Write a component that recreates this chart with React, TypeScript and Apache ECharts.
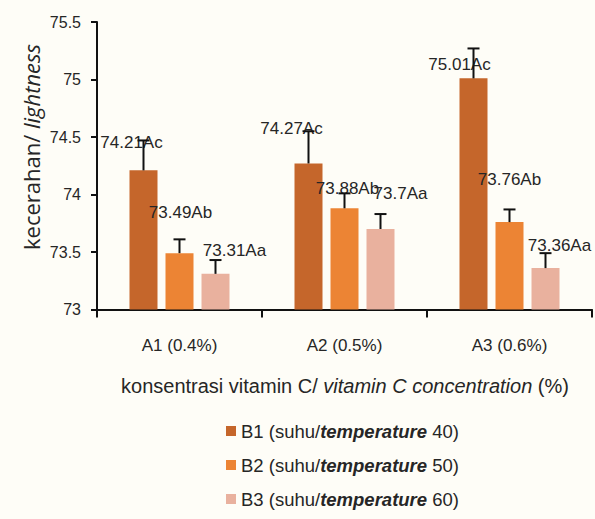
import React, { useEffect, useRef } from "react";
import * as echarts from "echarts";

const categories = ["A1 (0.4%)", "A2 (0.5%)", "A3 (0.6%)"];
const seriesNames = [
  "B1 (suhu/temperature 40)",
  "B2 (suhu/temperature 50)",
  "B3 (suhu/temperature 60)",
];
const valuesB1 = [74.21, 74.27, 75.01];
const valuesB2 = [73.49, 73.88, 73.76];
const valuesB3 = [73.31, 73.7, 73.36];
const errorsB1 = [0.26, 0.28, 0.26];
const errorsB2 = [0.12, 0.13, 0.11];
const errorsB3 = [0.12, 0.13, 0.13];
const lettersB1 = ["Ac", "Ac", "Ac"];
const lettersB2 = ["Ab", "Ab", "Ab"];
const lettersB3 = ["Aa", "Aa", "Aa"];
const yTicks = { min: 73, max: 75.5, interval: 0.5 };

// layout / style constants
const colors = ["#c5662b", "#ec8434", "#e9b19e"];
const labelOffsets = [
  [[-12, -28], [-17, -35], [-14, -14]],
  [[1, -41], [3, -20], [0, -43]],
  [[19, -23], [20, -36], [14, -23]],
];
const BAR_W = 28;
const BAR_STEP = 36;
const FONT = "'Liberation Sans', Arial, sans-serif";
const TEXT = "#262626";

export default function App() {
  const ref = useRef<HTMLDivElement>(null);
  useEffect(() => {
    if (!ref.current) return;
    const chart = echarts.init(ref.current, undefined, { renderer: "svg" });
    const values = [valuesB1, valuesB2, valuesB3];
    const errors = [errorsB1, errorsB2, errorsB3];
    const letters = [lettersB1, lettersB2, lettersB3];

    const barSeries = values.map((vals, si) => ({
      type: "bar",
      name: seriesNames[si],
      barWidth: BAR_W,
      barGap: ((BAR_STEP - BAR_W) / BAR_W) * 100 + "%",
      itemStyle: { color: colors[si] },
      z: 2,
      data: vals.map((v, ci) => ({
        value: v,
        label: {
          show: true,
          position: ["50%", 0],
          align: "center",
          verticalAlign: "middle",
          offset: labelOffsets[si][ci],
          formatter: () => `${v}${letters[si][ci]}`,
          fontFamily: FONT,
          fontSize: 17,
          color: TEXT,
        },
      })),
    }));

    const errSeries = values.map((vals, si) => ({
      type: "custom",
      name: seriesNames[si] + " err",
      z: 10,
      silent: true,
      data: vals.map((v, ci) => [ci, v, errors[si][ci]]),
      renderItem: (params: any, api: any) => {
        const ci = api.value(0);
        const v = api.value(1);
        const e = api.value(2);
        const p0 = api.coord([ci, v]);
        const p1 = api.coord([ci, v + e]);
        const x = p0[0] + (si - 1) * BAR_STEP;
        return {
          type: "group",
          children: [
            {
              type: "line",
              shape: { x1: x, y1: p0[1], x2: x, y2: p1[1] },
              style: { stroke: "#111", lineWidth: 2 },
            },
            {
              type: "line",
              shape: { x1: x - 6, y1: p1[1], x2: x + 6, y2: p1[1] },
              style: { stroke: "#111", lineWidth: 2 },
            },
          ],
        };
      },
    }));

    chart.setOption({
      animation: false,
      backgroundColor: "#fefdf7",
      grid: { left: 97, right: 3, top: 22, bottom: 209.5, containLabel: false },
      legend: {
        orient: "vertical",
        left: 221,
        top: 415,
        itemWidth: 10,
        itemHeight: 10,
        itemGap: 12,
        itemTextGap: 3,
        icon: "rect",
        data: seriesNames,
        formatter: (name: string) => name.replace("temperature", "{i|temperature}"),
        textStyle: {
          fontFamily: FONT,
          fontSize: 18.5,
          lineHeight: 22,
          color: TEXT,
          rich: {
            i: {
              fontFamily: FONT,
              fontSize: 18.5,
              lineHeight: 22,
              fontStyle: "italic",
              fontWeight: "bold",
              color: TEXT,
            },
          },
        },
      },
      xAxis: {
        type: "category",
        data: categories,
        axisLine: { lineStyle: { color: "#111", width: 2 } },
        axisTick: { show: true, length: 8, lineStyle: { color: "#111", width: 2 } },
        axisLabel: { margin: 27, fontFamily: FONT, fontSize: 17, color: TEXT },
      },
      yAxis: {
        type: "value",
        min: yTicks.min,
        max: yTicks.max,
        interval: yTicks.interval,
        splitLine: { show: false },
        axisLine: { show: true, lineStyle: { color: "#111", width: 2 } },
        axisTick: { show: true, length: 6, lineStyle: { color: "#111", width: 2 } },
        axisLabel: { margin: 16, fontFamily: FONT, fontSize: 16, color: TEXT },
      },
      graphic: [
        {
          type: "text",
          x: 31,
          y: 147,
          rotation: Math.PI / 2,
          style: {
            text: "kecerahan/ {i|lightness}",
            fontFamily: "'Open Sans', sans-serif",
            fontSize: 22,
            fill: TEXT,
            align: "center",
            verticalAlign: "middle",
            rich: {
              i: { fontFamily: "'Open Sans', sans-serif", fontSize: 22, fontStyle: "italic", fill: TEXT },
            },
          },
        },
        {
          type: "text",
          x: 345,
          y: 386,
          style: {
            text: "konsentrasi vitamin C/ {i|vitamin C concentration} (%)",
            fontFamily: FONT,
            fontSize: 20,
            fill: TEXT,
            align: "center",
            verticalAlign: "middle",
            rich: {
              i: { fontFamily: FONT, fontSize: 20, fontStyle: "italic", fill: TEXT },
            },
          },
        },
      ],
      series: [...barSeries, ...errSeries],
    });
    return () => chart.dispose();
  }, []);
  return (
    <div
      ref={ref}
      style={{ position: "fixed", left: 0, top: 0, width: 595, height: 519 }}
    />
  );
}
